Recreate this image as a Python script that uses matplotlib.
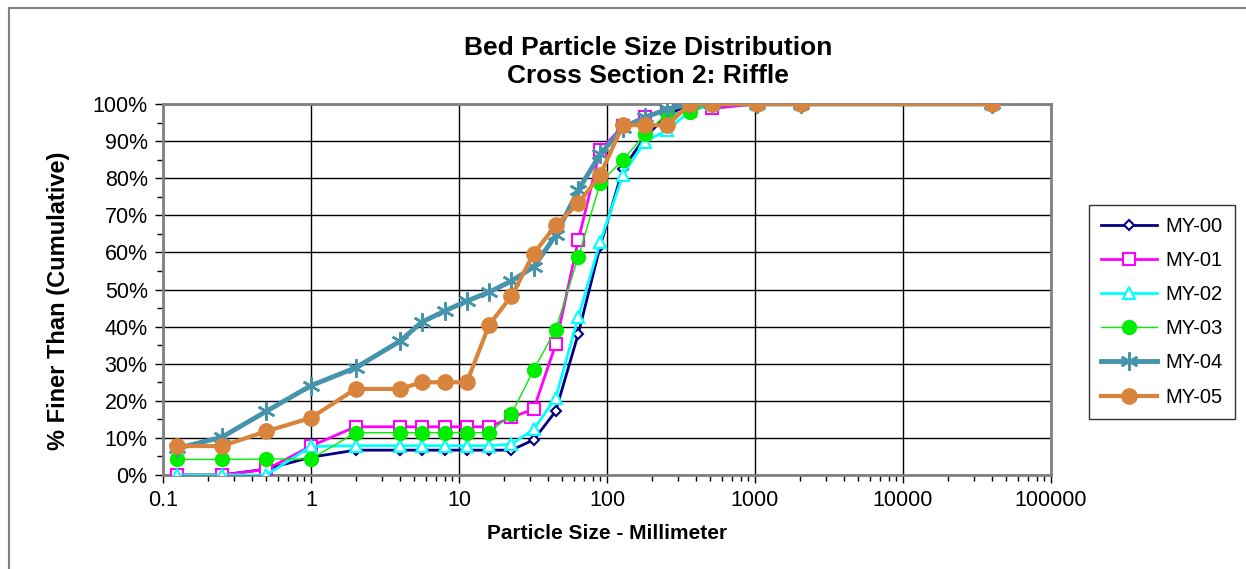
import matplotlib
matplotlib.use("Agg")
import matplotlib.pyplot as plt
from matplotlib.lines import Line2D
from matplotlib.ticker import FuncFormatter, LogLocator, MultipleLocator, NullFormatter

plt.rcParams['font.family'] = ['Liberation Sans', 'DejaVu Sans']

# sieve sizes (mm) and cumulative percent finer for each survey
sizes = [0.125, 0.25, 0.5, 1, 2, 4, 5.6, 8, 11.3, 16, 22.6, 32, 45, 64, 90,
         128, 180, 256, 362, 512, 1024, 2048, 40000]
my00 = [0, 0, 1.6, 4.8, 6.7, 6.7, 6.7, 6.7, 6.7, 6.7, 6.7, 9.5, 17.2, 38.1, 61.7,
        82.5, 91.0, 97.0, 100, 100, 100, 100, 100]
my01 = [0, 0, 1.5, 7.8, 13.0, 13.0, 13.0, 13.0, 13.0, 13.0, 15.5, 17.8, 35.2, 63.3, 87.6,
        94.0, 96.6, 98.6, 100, 98.8, 100, 100, 100]
my02 = [0, 0, 0, 7.7, 7.9, 7.9, 7.9, 7.9, 7.9, 7.9, 8.3, 12.3, 20.8, 42.6, 62.8,
        80.9, 89.8, 93.0, 98.0, 100, 100, 100, 100]
my03 = [4.2, 4.2, 4.3, 4.3, 11.4, 11.4, 11.4, 11.4, 11.4, 11.4, 16.4, 28.4, 39.2, 58.8, 78.7,
        84.9, 91.8, 97.5, 97.8, 100, 100, 100, 100]
my04 = [7.2, 10.2, 17.2, 24.1, 28.9, 36.1, 41.2, 44.2, 46.9, 49.3, 52.3, 56.1, 64.6, 76.8, 86.5,
        93.5, 96.4, 98.6, 100, 100, 100, 100, 100]
my05 = [7.8, 7.8, 11.8, 15.4, 23.2, 23.2, 25.0, 25.0, 25.0, 40.5, 48.2, 59.7, 67.3, 73.2, 80.9,
        94.3, 94.3, 94.3, 100, 100, 100, 100, 100]

labels = ["MY-00", "MY-01", "MY-02", "MY-03", "MY-04", "MY-05"]

fig = plt.figure(figsize=(12.46, 5.69), dpi=100)
ax = fig.add_axes([163 / 1246, 1 - 475 / 569, (1051 - 163) / 1246, (475 - 104) / 569])

asterisk = (6, 2, 0)
ax.plot(sizes, my00, color='#000080', lw=2, marker='D', ms=5.5, mfc='white',
        mec='#000080', mew=1.5, label=labels[0], zorder=3)
ax.plot(sizes, my01, color='#ff00ff', lw=2, marker='s', ms=9, mfc='white',
        mec='#ff00ff', mew=1.5, label=labels[1], zorder=4)
ax.plot(sizes, my02, color='#00ffff', lw=2, marker='^', ms=9, mfc='white',
        mec='#00ffff', mew=1.5, label=labels[2], zorder=5)
ax.plot(sizes, my03, color='#00ee00', lw=1, marker='o', ms=10, mfc='#00ee00',
        mec='#00ee00', label=labels[3], zorder=6)
ax.plot(sizes, my04, color='#4694ac', lw=3.5, marker=asterisk, ms=13,
        mec='#4694ac', mew=1.8, label=labels[4], zorder=7)
ax.plot(sizes, my05, color='#d9843c', lw=3, marker='o', ms=11, mfc='#d9843c',
        mec='#d9843c', label=labels[5], zorder=8)

ax.set_xscale('log')
ax.set_xlim(0.1, 100000)
ax.set_ylim(0, 100)
ax.xaxis.set_major_locator(LogLocator(base=10, numticks=10))
ax.xaxis.set_minor_locator(LogLocator(base=10, subs=range(2, 10), numticks=20))
ax.xaxis.set_minor_formatter(NullFormatter())
ax.xaxis.set_major_formatter(FuncFormatter(lambda v, p: f"{v:g}"))
ax.yaxis.set_major_locator(MultipleLocator(10))
ax.yaxis.set_minor_locator(MultipleLocator(5))
ax.yaxis.set_major_formatter(FuncFormatter(lambda v, p: f"{v:.0f}%"))

ax.grid(True, which='major', color='black', lw=1)
ax.set_axisbelow(True)
for s in ax.spines.values():
    s.set_color('#808080')
    s.set_linewidth(2)
ax.tick_params(which='major', direction='out', length=6, width=1, color='black',
               labelsize=15.5, pad=5)
ax.tick_params(which='minor', direction='out', length=4, width=1, color='black')

ax.set_xlabel("Particle Size - Millimeter", fontsize=15, fontweight='bold', labelpad=9)
ax.set_ylabel("% Finer Than (Cumulative)", fontsize=17, fontweight='bold')
ax.yaxis.set_label_coords(-0.105, 0.47)

fig.text(648 / 1246, 1 - 62 / 569, "Bed Particle Size Distribution\nCross Section 2: Riffle",
         ha='center', va='center', fontsize=19, fontweight='bold', linespacing=1.22)

leg = fig.legend(loc='upper left', bbox_to_anchor=(1089 / 1246, 1 - 205 / 569),
                 borderaxespad=0, fontsize=14.5, frameon=True, fancybox=False,
                 edgecolor='black', handlelength=2.8, labelspacing=0.75,
                 borderpad=0.6, handletextpad=0.4)
leg.get_frame().set_linewidth(1)

# chart area border
fig.add_artist(Line2D([9 / 1246, 1.0], [1 - 8 / 569, 1 - 8 / 569], color='#808080', lw=1.5))
fig.add_artist(Line2D([9 / 1246, 9 / 1246], [0, 1 - 8 / 569], color='#808080', lw=1.5))

fig.savefig("out.png", dpi=100)
